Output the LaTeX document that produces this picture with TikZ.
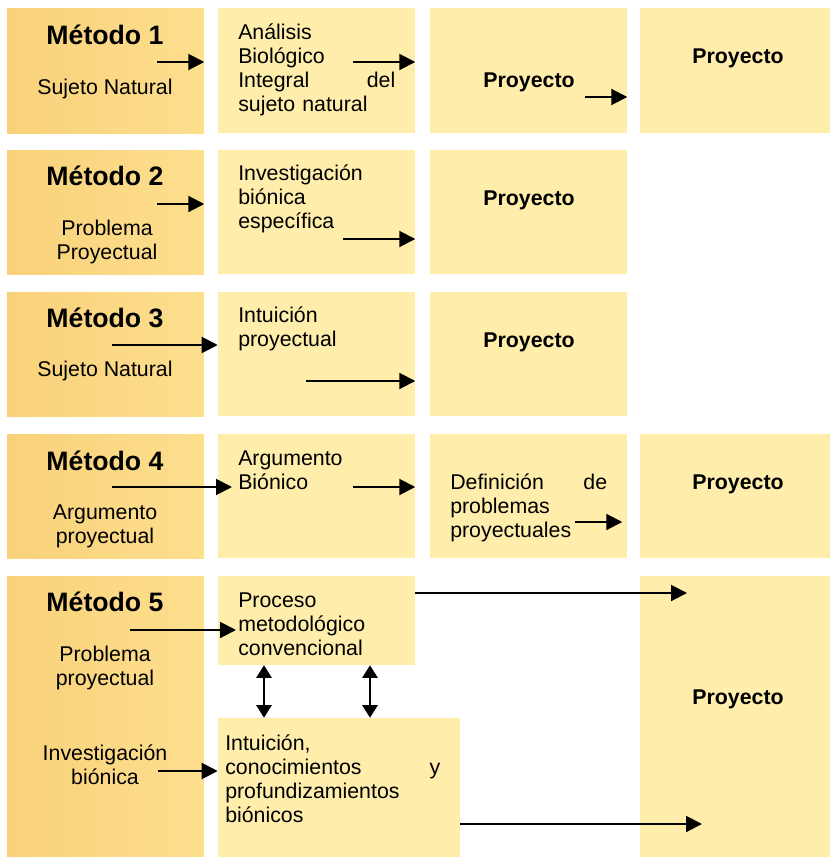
\documentclass[tikz,border=0pt]{standalone}
\usepackage{fontspec}
\setmainfont{Liberation Sans}
\usetikzlibrary{arrows.meta,fit}

\definecolor{oro}{RGB}{249,209,122}
\definecolor{oroclaro}{RGB}{253,223,142}
\definecolor{crema}{RGB}{254,237,171}

\begin{document}
\begin{tikzpicture}[x=0.75pt,y=-0.75pt,
  metodo/.style={inner sep=0, left color=oro, right color=oroclaro},
  caja/.style={inner sep=0, fill=crema},
  titulo/.style={inner sep=0, font=\bfseries\fontsize{20}{22}\selectfont},
  txt/.style={inner sep=0, yshift=-1.5pt, align=center, font=\fontsize{16}{18}\selectfont},
  lista/.style={inner sep=0, yshift=-1.5pt, align=left, anchor=west, font=\fontsize{16}{18}\selectfont},
  proy/.style={inner sep=0, yshift=-1.5pt, font=\bfseries\fontsize{16}{18}\selectfont},
  flecha/.style={-{Triangle[length=12pt,width=12pt]}, line width=1.5pt},
  doble/.style={{Triangle[length=9.5pt,width=11.5pt]}-{Triangle[length=9.5pt,width=11.5pt]}, line width=1.5pt}]
  \useasboundingbox (0,0) rectangle (830,857);

  % metodo 1
  \node[metodo, fit={(7,8) (204,133)}] (m1) {};
  \node[caja, fit={(218,8) (415,133)}] (b1) {};
  \node[caja, fit={(430,8) (627,133)}] (p1) {};
  \node[caja, fit={(640,8) (830,133)}] (q1) {};
  \node[titulo] (t1) at (105,35) {Método 1};
  \node[txt] (s1) at (105,87) {Sujeto Natural};
  \node[lista, text width=117.75pt] (c1) at (238,68)
    {Análisis\\Biológico\\Integral\hfill del\\sujeto natural};
  \node[proy] (r1) at (529,80) {Proyecto};
  \node[proy] (u1) at (738,56) {Proyecto};
  \coordinate (a1) at (157,62);
  \coordinate (a2) at (353,62);
  \coordinate (a3) at (585,97);
  \draw[flecha] (a1) -- (a1 -| m1.east);
  \draw[flecha] (a2) -- (a2 -| b1.east);
  \draw[flecha] (a3) -- (a3 -| p1.east);

  % metodo 2
  \node[metodo, fit={(7,150) (204,274)}] (m2) {};
  \node[caja, fit={(218,150) (415,274)}] (b2) {};
  \node[caja, fit={(430,150) (627,274)}] (p2) {};
  \node[titulo] (t2) at (105,176) {Método 2};
  \node[txt] (s2) at (107,240) {Problema\\Proyectual};
  \node[lista] (c2) at (238,197) {Investigación\\biónica\\específica};
  \node[proy] (r2) at (529,198) {Proyecto};
  \coordinate (a4) at (157,204);
  \coordinate (a5) at (343,239);
  \draw[flecha] (a4) -- (a4 -| m2.east);
  \draw[flecha] (a5) -- (a5 -| b2.east);

  % metodo 3
  \node[metodo, fit={(7,292) (204,416)}] (m3) {};
  \node[caja, fit={(218,292) (415,416)}] (b3) {};
  \node[caja, fit={(430,292) (627,416)}] (p3) {};
  \node[titulo] (t3) at (105,318) {Método 3};
  \node[txt] (s3) at (105,369) {Sujeto Natural};
  \node[lista] (c3) at (238,327) {Intuición\\proyectual};
  \node[proy] (r3) at (529,340) {Proyecto};
  \coordinate (a6) at (112,345);
  \coordinate (a7) at (306,381);
  \draw[flecha] (a6) -- (a6 -| b3.west);
  \draw[flecha] (a7) -- (a7 -| b3.east);

  % metodo 4
  \node[metodo, fit={(7,434) (204,558)}] (m4) {};
  \node[caja, fit={(218,434) (415,558)}] (b4) {};
  \node[caja, fit={(430,434) (627,558)}] (p4) {};
  \node[caja, fit={(640,434) (830,558)}] (q4) {};
  \node[titulo] (t4) at (105,461) {Método 4};
  \node[txt] (s4) at (105,524) {Argumento\\proyectual};
  \node[lista] (c4) at (238,468) {Argumento\\Biónico};
  \node[lista, text width=117.75pt] (d4) at (450,506)
    {Definición\hfill de\\problemas\\proyectuales};
  \node[proy] (u4) at (738,482) {Proyecto};
  \coordinate (a8) at (112,487);
  \coordinate (a9) at (353,487);
  \coordinate (a10) at (575,522);
  \draw[flecha] (a8) -- ([xshift=-4.5pt]a8 -| c4.west);
  \draw[flecha] (a9) -- (a9 -| b4.east);
  \draw[flecha] (a10) -- ([xshift=-3.75pt]a10 -| p4.east);

  % metodo 5
  \node[metodo, fit={(7,576) (204,857)}] (m5) {};
  \node[caja, fit={(218,576) (415,665)}] (b5) {};
  \node[caja, fit={(218,718) (460,857)}] (i5) {};
  \node[caja, fit={(640,576) (830,857)}] (q5) {};
  \node[titulo] (t5) at (105,602) {Método 5};
  \node[txt] (s5) at (105,666) {Problema\\proyectual};
  \node[txt] (v5) at (105,763) {Investigación\\biónica};
  \node[lista] (c5) at (238,622) {Proceso\\metodológico\\convencional};
  \node[lista, text width=161.25pt] (k5) at (225,777)
    {Intuición,\\conocimientos\hfill y\\profundizamientos\\biónicos};
  \node[proy] (u5) at (738,697) {Proyecto};
  \coordinate (a11) at (130,630);
  \coordinate (a12) at (158,771);
  \coordinate (e1) at (687,593);
  \coordinate (e2) at (702,824);
  \coordinate (x1) at (264,0);
  \coordinate (x2) at (370,0);
  \draw[flecha] (a11) -- ([xshift=-1.5pt]a11 -| c5.west);
  \draw[flecha] (a12) -- (a12 -| i5.west);
  \draw[flecha] (e1 -| b5.east) -- (e1);
  \draw[flecha] (e2 -| i5.east) -- (e2);
  \draw[doble] (x1 |- b5.south) -- (x1 |- i5.north);
  \draw[doble] (x2 |- b5.south) -- (x2 |- i5.north);
\end{tikzpicture}
\end{document}
